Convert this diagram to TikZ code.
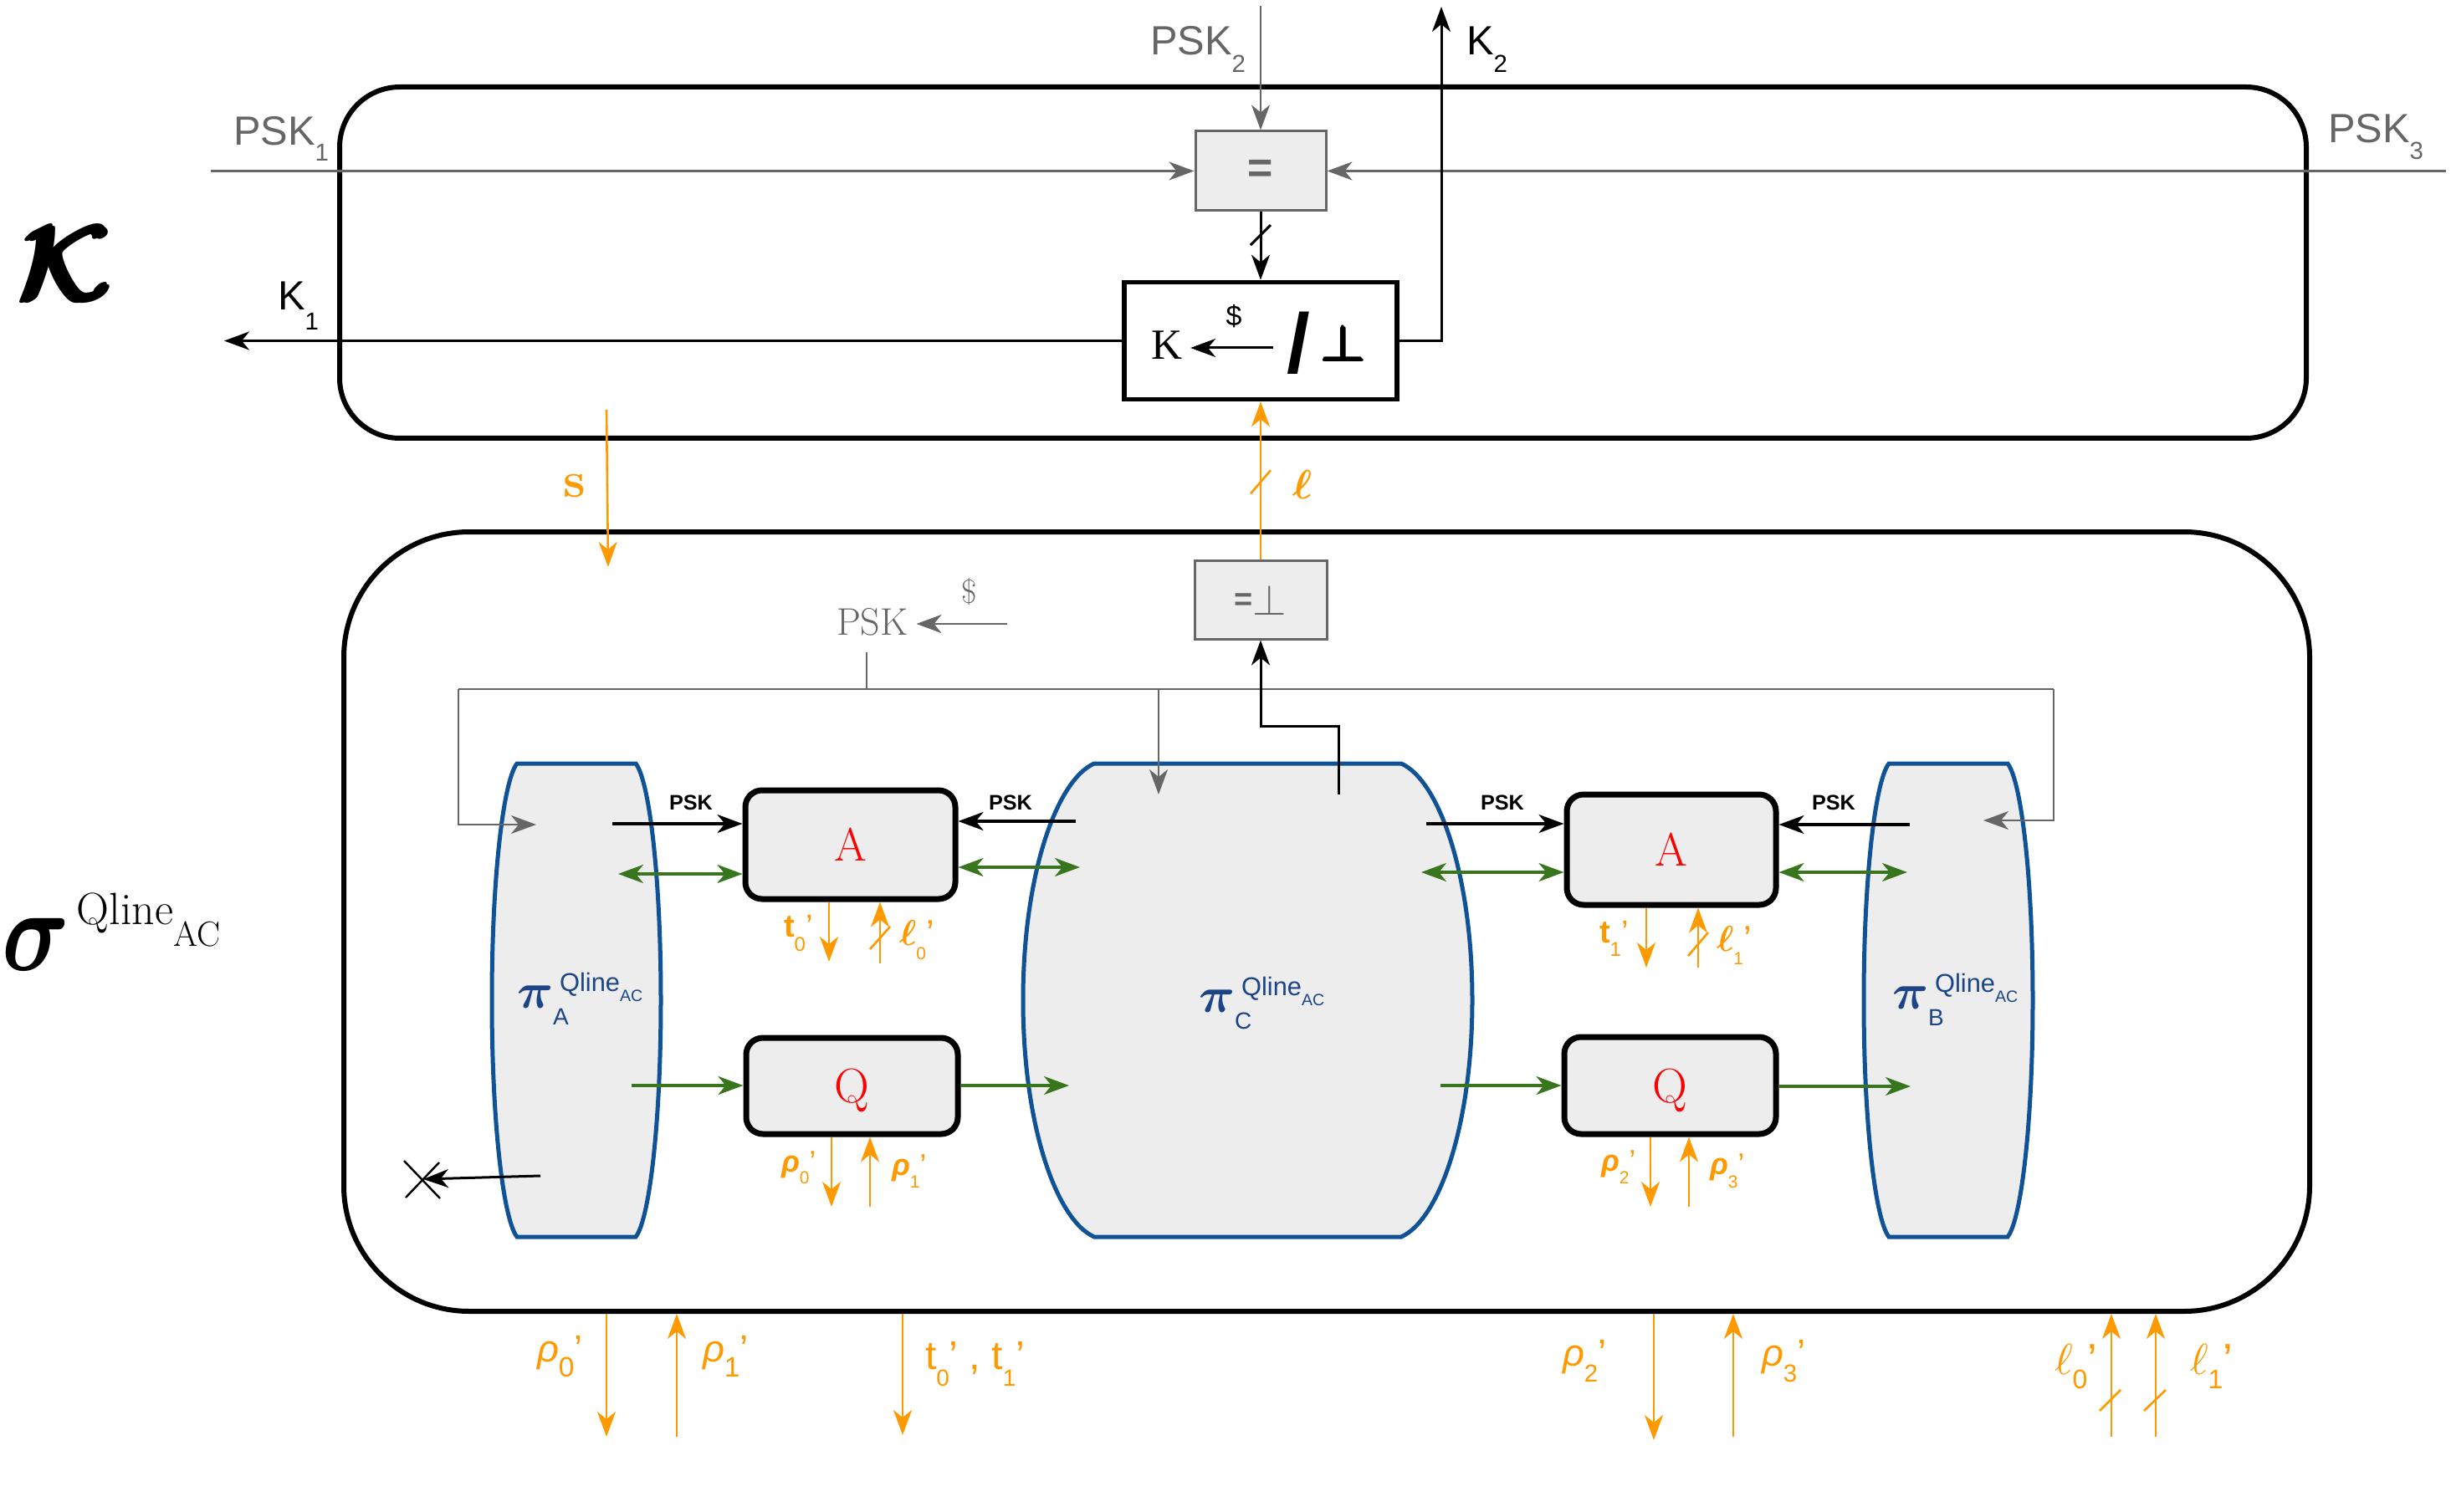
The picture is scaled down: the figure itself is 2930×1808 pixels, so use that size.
\documentclass[tikz,border=0pt]{standalone}
\usepackage{amsmath}
\usepackage{graphicx}
\usepackage{fontspec}
\newfontfamily\arial{Liberation Sans}
\newfontfamily\tnr{Liberation Serif}
\usetikzlibrary{arrows.meta,calc}
\definecolor{lgray}{HTML}{EDEDED}
\definecolor{dgray}{HTML}{666666}
\definecolor{pblue}{RGB}{16,82,150}
\definecolor{lblue}{RGB}{28,69,135}
\definecolor{grn}{RGB}{56,118,29}
\definecolor{org}{HTML}{FF9900}
\newcommand\fs[1]{\fontsize{#1}{#1}\selectfont}
\newcommand\mth[2]{\scalebox{#1}{\fs{10}$#2$}}
\newcommand\plab[5]{{\fs{#3}#1}\raisebox{-#5}{\fs{#4}#2}{\fs{#3}’}}
\newcommand\sublab[5]{{\fs{#3}#1}\raisebox{-#5}{\fs{#4}#2}}
\newcommand\pilab[1]{\mth{3}{\boldsymbol{\pi}}\rlap{\hspace{4pt}\raisebox{10pt}{\arial\fs{15.4}Qline\raisebox{-6pt}{\fs{9.8}AC}}}\raisebox{-10pt}{\arial\fs{14}#1}}
\newcommand\barrel[3]{%
  \draw[protoshape] (#1,913) -- (#2,913)
   .. controls ({#2+0.53*#3},933) and ({#2+#3},1046) .. ({#2+#3},1196)
   .. controls ({#2+#3},1346) and ({#2+0.53*#3},1459) .. (#2,1479)
   -- (#1,1479)
   .. controls ({#1-0.53*#3},1459) and ({#1-#3},1346) .. ({#1-#3},1196)
   .. controls ({#1-#3},1046) and ({#1-0.53*#3},933) .. cycle;}
\begin{document}
\begin{tikzpicture}[x=0.5pt,y=-0.5pt,
  arr/.style={-{Stealth[length=15pt,width=11pt,inset=4.5pt]}},
  darr/.style={{Stealth[length=15pt,width=11pt,inset=4.5pt]}-{Stealth[length=15pt,width=11pt,inset=4.5pt]}},
  linegray/.style={draw=dgray,line width=1.4pt},
  lineblack/.style={draw=black,line width=1.5pt},
  lineorange/.style={draw=org,line width=1.3pt},
  linegreen/.style={draw=grn,line width=1.8pt},
  boxouter/.style={draw=black,line width=3pt,rounded corners=36pt,inner sep=0pt,outer sep=1.5pt},
  boxgray/.style={draw=dgray,fill=lgray,line width=1.5pt,inner sep=0pt,outer sep=0.75pt,text=dgray},
  boxkey/.style={draw=black,fill=white,line width=2.8pt,inner sep=0pt,outer sep=1.4pt},
  boxfunc/.style={draw=black,fill=lgray,line width=3.5pt,rounded corners=10pt,inner sep=0pt,outer sep=1.75pt,text=red,text depth=0pt},
  protoshape/.style={draw=pblue,fill=lgray,line width=2.5pt},
  txt/.style={inner sep=0pt,outer sep=0pt},
]
\useasboundingbox (0,0) rectangle (2930,1808);

% ---------- outer boxes
\node[boxouter, minimum width=1175.5pt, minimum height=210pt] (kout) at (1581.5,314) {};
\node[boxouter, rounded corners=75pt, minimum width=1175pt, minimum height=466pt] (sig) at (1586,1102) {};

% ---------- protocols (drawn first so that arrows show on top)
\barrel{618}{760}{30}
\barrel{1308}{1675}{85}
\barrel{2258}{2400}{30}
\node[txt, anchor=base west, text=lblue] (piA) at (618,1205) {\pilab{A}};
\node[txt, anchor=base west, text=lblue] (piC) at (1433,1210) {\pilab{C}};
\node[txt, anchor=base west, text=lblue] (piB) at (2262,1206) {\pilab{B}};

% ---------- big labels
\node[txt] (kcal) at (80,315) {\mth{6.4}{\pmb{\boldsymbol{\mathcal{K}}}}};
\node[txt, anchor=base west] (siglab) at (3,1160) {\scalebox{5.6}[7]{\fs{10}$\boldsymbol{\sigma}$}\hspace{4pt}\raisebox{27.5pt}{\fs{27}Qline\raisebox{-13pt}{\fs{21}AC}}};

% ---------- top functionality
\node[boxgray, minimum width=78pt, minimum height=47.5pt, font=\arial\bfseries\fs{26}] (eqb) at (1507,204.5) {=};
\node[boxkey, minimum width=163pt, minimum height=70pt] (keyb) at (1507,407.5) {};
\node[txt, anchor=base west, font=\tnr\fs{25.7}] (kK) at (1376,430) {K};
\node[txt, font=\arial\fs{17}] (kdol) at (1475,378) {\$};
\node[txt, font=\arial\bfseries\fs{50}] (kslash) at (1552,410) {/};
\node[txt] (kperp) at (1607,411) {\mth{3}{\pmb{\boldsymbol{\perp}}}};
\coordinate (karr) at (1522,416);
\draw[lineblack, arr, shorten >=5pt] (karr) -- (karr -| kK.east);

\node[txt, anchor=base west, text=dgray, font=\arial] (psk1) at (279,174) {\sublab{PSK}{1}{24.4}{14.7}{9.5pt}};
\node[txt, anchor=base west, text=dgray, font=\arial] (psk2) at (1375,66) {\sublab{PSK}{2}{24.4}{14.7}{10.5pt}};
\node[txt, anchor=base west, text=dgray, font=\arial] (psk3) at (2783,171) {\sublab{PSK}{3}{24.4}{14.7}{10pt}};
\node[txt, anchor=base west, font=\arial] (k1) at (332,371) {\sublab{K}{1}{24.4}{14.7}{12pt}};
\node[txt, anchor=base west, font=\arial] (k2) at (1753,66) {\sublab{K}{2}{24.4}{14.7}{10.5pt}};

\coordinate (p1) at (252,205);
\coordinate (p2) at (1507,7);
\coordinate (p3) at (2924,204);
\draw[linegray, arr] (p1 |- eqb.west) -- (eqb.west);
\draw[linegray, arr] (p2 -| eqb.north) -- (eqb.north);
\draw[linegray, arr] (p3 |- eqb.east) -- (eqb.east);
\draw[lineblack, arr] (eqb.south) -- (keyb.north) coordinate[pos=0.34] (sl1);
\draw[lineblack] ($(sl1)+(-12,12)$) -- ($(sl1)+(12,-12)$);
\coordinate (k1out) at (268,409);
\draw[lineblack, arr] (keyb.west) -- (keyb.west -| k1out);
\coordinate (k2out) at (1723,8);
\draw[lineblack, arr] (keyb.east) -| (k2out);

% ---------- s and l links
\coordinate (s0) at (725,490);
\coordinate (s1) at (727,678);
\draw[lineorange, arr] (s0) -- (s1);
\node[txt, text=org, font=\bfseries\fs{30}] (slab) at (687,581) {s};
\node[boxgray, minimum width=79pt, minimum height=47pt] (eqp) at (1507,717) {{\arial\bfseries\fs{19}\raisebox{3pt}{=}}\mth{2.6}{\perp}};
\draw[lineorange, arr] (eqp.north) -- (keyb.south) coordinate[pos=0.49] (sl2);
\draw[lineorange] ($(sl2)+(-12,14)$) -- ($(sl2)+(12,-14)$);
\node[txt, text=org] (elllab) at (1557,579) {\mth{2.45}{\boldsymbol{\ell}}};

% ---------- PSK distribution
\node[txt, anchor=base west, text=dgray, font=\fs{23}] (psk) at (1000,759) {PSK};
\node[txt, text=dgray, font=\fs{20}] (pdol) at (1159,708) {\$};
\coordinate (pdsrc) at (1204,746);
\draw[linegray, arr, shorten >=5pt] (pdsrc) -- (pdsrc -| psk.east);
\coordinate (pskd) at (1036,780);
\coordinate (busM) at (1036,824);
\coordinate (busL) at (548,824);
\coordinate (busR) at (2455,824);
\coordinate (busC) at (1385,824);
\coordinate (pinA) at (641,986);
\coordinate (pinB) at (2371,981);
\coordinate (pinC) at (1385,950);
\draw[linegray, line width=1.2pt] (pskd) -- (busM);
\draw[linegray, line width=1.2pt] (busL) -- (busR);
\draw[linegray, line width=1.2pt, arr] (busL) |- (pinA);
\draw[linegray, line width=1.2pt, arr] (busR) |- (pinB);
\draw[linegray, line width=1.2pt, arr] (busC) -- (pinC);

\coordinate (cOut) at (1600,950);
\coordinate (cBend) at (1600,868);
\draw[lineblack, arr] (cOut) -- (cBend) -| (eqp.south);

% ---------- functionalities A and Q
\node[boxfunc, minimum width=125.5pt, minimum height=65pt, font=\fs{28}] (A1) at (1016.5,1010) {A};
\node[boxfunc, minimum width=125pt, minimum height=66pt, font=\fs{28}] (A2) at (1998,1016) {A};
\node[boxfunc, minimum width=126.5pt, minimum height=57.5pt, font=\fs{29}] (Q1) at (1018.5,1298.5) {Q};
\node[boxfunc, minimum width=126.5pt, minimum height=58pt, font=\fs{29}] (Q2) at (1996.5,1298) {Q};

% PSK inputs
\node[txt, anchor=base west, font=\arial\bfseries\fs{12.6}] (pk1) at (800,968) {PSK};
\node[txt, anchor=base west, font=\arial\bfseries\fs{12.6}] (pk2) at (1182,968) {PSK};
\node[txt, anchor=base west, font=\arial\bfseries\fs{12.6}] (pk3) at (1770,968) {PSK};
\node[txt, anchor=base west, font=\arial\bfseries\fs{12.6}] (pk4) at (2166,968) {PSK};
\coordinate (a1s) at (732,985);
\coordinate (a1t) at (1286,982);
\coordinate (a2s) at (1705,985);
\coordinate (a2t) at (2283,986);
\draw[lineblack, line width=1.7pt, arr] (a1s) -- (a1s -| A1.west);
\draw[lineblack, line width=1.7pt, arr] (a1t) -- (a1t -| A1.east);
\draw[lineblack, line width=1.7pt, arr] (a2s) -- (a2s -| A2.west);
\draw[lineblack, line width=1.7pt, arr] (a2t) -- (a2t -| A2.east);

% green channels
\coordinate (g1) at (739,1045);
\coordinate (g2) at (1291,1037);
\coordinate (g3) at (1699,1043);
\coordinate (g4) at (2280,1043);
\coordinate (g5) at (755,1298);
\coordinate (g6) at (1278,1298);
\coordinate (g7) at (1722,1298);
\coordinate (g8) at (2284,1299);
\draw[linegreen, darr] (g1) -- (g1 -| A1.west);
\draw[linegreen, darr] (A1.east |- g2) -- (g2);
\draw[linegreen, darr] (g3) -- (g3 -| A2.west);
\draw[linegreen, darr] (A2.east |- g4) -- (g4);
\draw[linegreen, arr] (g5) -- (g5 -| Q1.west);
\draw[linegreen, arr] (Q1.east |- g6) -- (g6);
\draw[linegreen, arr] (g7) -- (g7 -| Q2.west);
\draw[linegreen, arr] (Q2.east |- g8) -- (g8);

% blocked output
\coordinate (xs) at (646,1406);
\coordinate (xd) at (506,1410);
\draw[lineblack, arr] (xs) -- (xd);
\draw[lineblack, line width=1.2pt] ($(xd)+(-23,-22)$) -- ($(xd)+(20,23)$);
\draw[lineblack, line width=1.2pt] ($(xd)+(-21,22)$) -- ($(xd)+(19,-20)$);

% orange interfaces inside
\coordinate (t0e) at (991,1150);
\coordinate (l0s) at (1052,1152);
\coordinate (t1e) at (1968,1157);
\coordinate (l1s) at (2030,1157);
\coordinate (r0e) at (994,1443);
\coordinate (r1s) at (1040,1443);
\coordinate (r2e) at (1973,1443);
\coordinate (r3s) at (2019,1443);
\draw[lineorange, arr] (A1.south -| t0e) -- (t0e);
\draw[lineorange, arr] (l0s) -- (l0s |- A1.south);
\draw[lineorange] (1040,1135) -- (1064,1108);
\draw[lineorange, arr] (A2.south -| t1e) -- (t1e);
\draw[lineorange, arr] (l1s) -- (l1s |- A2.south);
\draw[lineorange] (2018,1143) -- (2042,1115);
\draw[lineorange, arr] (Q1.south -| r0e) -- (r0e);
\draw[lineorange, arr] (r1s) -- (r1s |- Q1.south);
\draw[lineorange, arr] (Q2.south -| r2e) -- (r2e);
\draw[lineorange, arr] (r3s) -- (r3s |- Q2.south);

\node[txt, anchor=base west, text=org, font=\arial] (lt0) at (937,1120) {\plab{\bfseries t}{0}{19}{12}{8.5pt}};
\node[txt, anchor=base west, text=org, font=\arial] (ll0) at (1075,1130) {\plab{\mth{2.16}{\boldsymbol{\ell}}}{0}{21.6}{10.5}{8.5pt}};
\node[txt, anchor=base west, text=org, font=\arial] (lt1) at (1912,1127) {\plab{\bfseries t}{1}{19}{12}{8pt}};
\node[txt, anchor=base west, text=org, font=\arial] (ll1) at (2052,1137) {\plab{\mth{2.16}{\boldsymbol{\ell}}}{1}{21.6}{10.5}{8pt}};
\node[txt, anchor=base west, text=org, font=\arial] (lr0) at (934,1401) {\plab{\bfseries\itshape ρ}{0}{18}{10.5}{7pt}};
\node[txt, anchor=base west, text=org, font=\arial] (lr1) at (1066,1405) {\plab{\bfseries\itshape ρ}{1}{18}{10.5}{7.5pt}};
\node[txt, anchor=base west, text=org, font=\arial] (lr2) at (1914,1400) {\plab{\bfseries\itshape ρ}{2}{18}{10.5}{7.5pt}};
\node[txt, anchor=base west, text=org, font=\arial] (lr3) at (2044,1404) {\plab{\bfseries\itshape ρ}{3}{18}{10.5}{8pt}};

% orange interfaces outside
\coordinate (b0) at (725,1718);
\coordinate (b1) at (809,1718);
\coordinate (bt) at (1079,1716);
\coordinate (b2) at (1977,1722);
\coordinate (b3) at (2072,1718);
\coordinate (bl0) at (2524,1718);
\coordinate (bl1) at (2577,1718);
\draw[lineorange, arr] (sig.south -| b0) -- (b0);
\draw[lineorange, arr] (b1) -- (b1 |- sig.south);
\draw[lineorange, arr] (sig.south -| bt) -- (bt);
\draw[lineorange, arr] (sig.south -| b2) -- (b2);
\draw[lineorange, arr] (b3) -- (b3 |- sig.south);
\draw[lineorange, arr] (bl0) -- (bl0 |- sig.south);
\draw[lineorange, arr] (bl1) -- (bl1 |- sig.south);
\draw[lineorange] (2510,1687) -- (2535,1662);
\draw[lineorange] (2563,1687) -- (2589,1662);

\node[txt, anchor=base west, text=org, font=\arial] (br0) at (642,1628) {\plab{\itshape ρ}{0}{22.6}{16.8}{9.3pt}};
\node[txt, anchor=base west, text=org, font=\arial] (br1) at (840,1628) {\plab{\itshape ρ}{1}{22.6}{16.8}{9.3pt}};
\node[txt, anchor=base west, text=org, font=\arial] (bt01) at (1106,1637) {\plab{t}{0}{24}{14}{10pt}{\fs{24}\ ,\ }\plab{t}{1}{24}{14}{10pt}};
\node[txt, anchor=base west, text=org, font=\arial] (br2) at (1868,1633) {\plab{\itshape ρ}{2}{22.6}{14.7}{9.8pt}};
\node[txt, anchor=base west, text=org, font=\arial] (br3) at (2106,1633) {\plab{\itshape ρ}{3}{22.6}{14.7}{9.8pt}};
\node[txt, anchor=base west, text=org, font=\arial] (bl0lab) at (2456,1643) {\plab{\mth{2.6}{\ell}}{0}{26}{16}{8.5pt}};
\node[txt, anchor=base west, text=org, font=\arial] (bl1lab) at (2618,1643) {\plab{\mth{2.6}{\ell}}{1}{26}{16}{8.5pt}};
\end{tikzpicture}
\end{document}
